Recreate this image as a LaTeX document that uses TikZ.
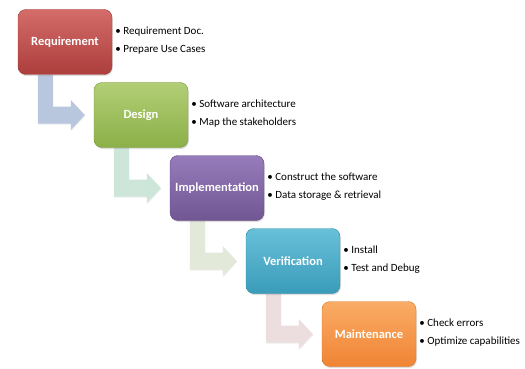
\documentclass[tikz,border=0pt]{standalone}
\usepackage{fontspec}
\setmainfont{Carlito}
\usetikzlibrary{positioning,calc,shadows}
\pgfdeclarelayer{background}
\pgfsetlayers{background,main}

\begin{document}
\begin{tikzpicture}[%
    x=1pt, y=1pt,
    node distance=73pt and 76pt, % Global setup of box spacing
    ]
% -------------------------------------------------
% A few box styles
\tikzset{
  base/.style={rounded corners=8pt, on grid, minimum width=94pt,
    minimum height=65pt, text=white, font=\bfseries\fontsize{12.5}{14}\selectfont,
    drop shadow={opacity=0.25, shadow xshift=0.8pt, shadow yshift=-1.6pt}},
  req/.style={base, draw={rgb,255:red,160;green,60;blue,58},
    top color={rgb,255:red,212;green,108;blue,105}, bottom color={rgb,255:red,172;green,62;blue,60}},
  des/.style={base, draw={rgb,255:red,125;green,155;blue,65},
    top color={rgb,255:red,178;green,206;blue,118}, bottom color={rgb,255:red,140;green,176;blue,72}},
  imp/.style={base, draw={rgb,255:red,98;green,75;blue,130},
    top color={rgb,255:red,150;green,124;blue,186}, bottom color={rgb,255:red,112;green,86;blue,146}},
  ver/.style={base, draw={rgb,255:red,50;green,140;blue,170},
    top color={rgb,255:red,104;green,192;blue,216}, bottom color={rgb,255:red,58;green,156;blue,186}},
  mnt/.style={base, draw={rgb,255:red,215;green,120;blue,45},
    top color={rgb,255:red,250;green,172;blue,102}, bottom color={rgb,255:red,240;green,132;blue,52}},
  bul/.style={right=3pt of #1.east, anchor=west, align=left, yshift=1.5pt,
    font=\fontsize{11}{18}\selectfont, inner sep=0pt},
  % Connector fill colours
  ar1/.style={fill={rgb,255:red,185;green,199;blue,222}},
  ar2/.style={fill={rgb,255:red,206;green,230;blue,218}},
  ar3/.style={fill={rgb,255:red,227;green,233;blue,217}},
  ar4/.style={fill={rgb,255:red,236;green,221;blue,222}},
}
\useasboundingbox (0,0) rectangle (525,-369);
% -------------------------------------------------
% Start by placing the nodes
\node [req] (a) at (65,-42) {Requirement};
\node [des, below right = of a] (b) {Design};
\node [imp, below right = of b] (c) {Implementation};
\node [ver, below right = of c] (d) {Verification};
\node [mnt, below right = of d] (e) {Maintenance};

% Fat elbow arrows from one step to the next
\newcommand\stepto[3]{%
  \fill[#3, drop shadow={opacity=0.15, shadow xshift=0.5pt, shadow yshift=-1pt}]
    ($(#1.south west)+(20pt,0)$) -- ++(15pt,0)
    |- ($(#2.west)+(-23pt,8.5pt)$) -- ++(0,6.5pt)
    -- ($(#2.west)+(-9pt,0)$) -- ($(#2.west)+(-23pt,-15pt)$)
    -- ++(0,6.5pt) -| ($(#1.south west)+(20pt,0)$) -- cycle;}
\begin{pgfonlayer}{background}
\stepto{a}{b}{ar1}%Requirement,Design
\stepto{b}{c}{ar2}%Design,Implementation
\stepto{c}{d}{ar3}%Implementation,Verification
\stepto{d}{e}{ar4}%Verification,Maintenance
\end{pgfonlayer}

% Bullet lists beside the boxes
\node [bul=a] (la) {• Requirement Doc.\\• Prepare Use Cases};
\node [bul=b] (lb) {• Software architecture\\• Map the stakeholders};
\node [bul=c] (lc) {• Construct the software\\• Data storage \& retrieval};
\node [bul=d] (ld) {• Install\\• Test and Debug};
\node [bul=e] (le) {• Check errors\\• Optimize capabilities};
% -------------------------------------------------
\end{tikzpicture}
\end{document}
